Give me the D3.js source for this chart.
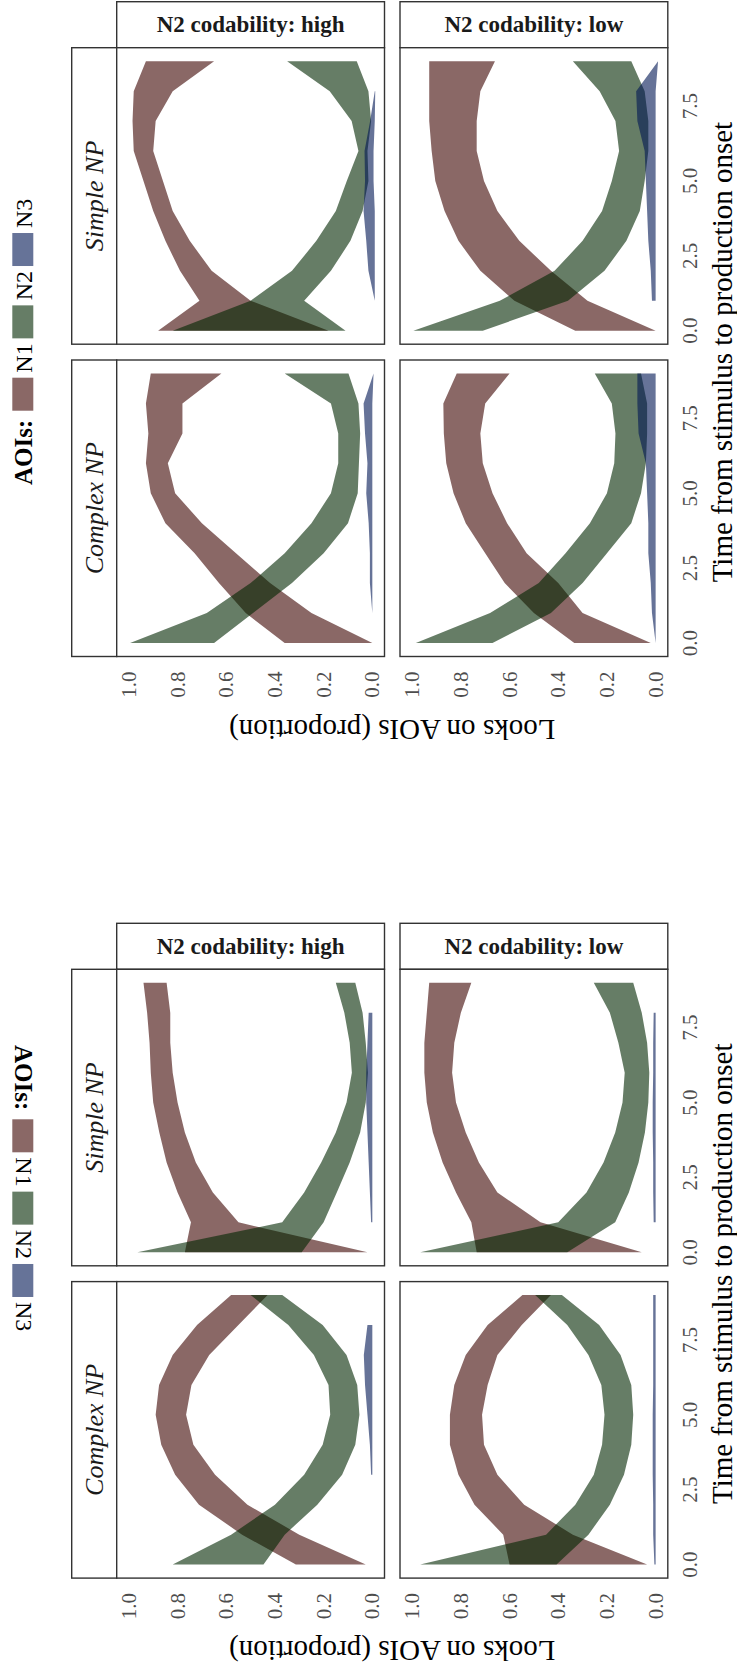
<!DOCTYPE html>
<html><head><meta charset="utf-8">
<script src="https://cdn.jsdelivr.net/npm/d3@7"></script>
<style>body{margin:0;background:#fff} svg{display:block}</style>
</head><body>
<svg id="c" width="737" height="1679"></svg>
<script>
// ---------- data ----------
const times = [0,1,2,3,4,5,6,7,8,9];
const aois = ["N1","N2","N3"];
const aoiColors = ["rgb(60,3,0)","rgb(0,38,0)","rgb(0,22,83)"];
const npLevels = ["Simple NP","Complex NP"];
const codLevels = ["N2 codability: high","N2 codability: low"];
const propTicks = [0,0.2,0.4,0.6,0.8,1.0];
const timeTicks = [0,2.5,5,7.5];
const legendTitle = "AOIs:";
const yTitle = "Looks on AOIs (proportion)";
const xTitle = "Time from stimulus to production onset";

// [lo, hi] per time point; top figure (A)
const A_SH_N1 = [[0.18,0.88],[0.50,0.71],[0.66,0.79],[0.75,0.85],[0.82,0.90],[0.86,0.94],[0.90,0.98],[0.89,0.985],[0.82,0.98],[0.65,0.93]];
const A_SH_N2 = [[0.11,0.82],[0.28,0.50],[0.17,0.33],[0.09,0.23],[0.04,0.15],[0.016,0.105],[0.02,0.057],[0.005,0.085],[0.016,0.175],[0.064,0.35]];
const A_SH_N3 = [null,[-0.01,-0.01],[-0.01,0.016],[-0.01,0.025],[-0.01,0.036],[-0.005,0.03],[-0.005,0.032],[-0.01,0.009],[-0.012,-0.01],null];
const A_SL_N1 = [[0.0,0.33],[0.28,0.58],[0.43,0.72],[0.56,0.81],[0.65,0.867],[0.705,0.905],[0.735,0.92],[0.735,0.93],[0.72,0.93],[0.66,0.93]];
const A_SL_N2 = [[0.71,0.995],[0.36,0.64],[0.21,0.415],[0.12,0.30],[0.065,0.22],[0.045,0.18],[0.03,0.15],[0.03,0.165],[0.045,0.23],[0.10,0.34]];
const A_SL_N3 = [null,[0,0.015],[0,0.02],[0,0.03],[0,0.035],[0,0.04],[0,0.045],[0,0.075],[0,0.08],[-0.01,-0.01]];
const A_CH_N1 = [[0.0,0.36],[0.25,0.52],[0.42,0.63],[0.56,0.73],[0.70,0.85],[0.81,0.91],[0.84,0.93],[0.78,0.92],[0.78,0.93],[0.62,0.91]];
const A_CH_N2 = [[0.65,0.995],[0.49,0.68],[0.33,0.50],[0.20,0.36],[0.10,0.25],[0.06,0.17],[0.055,0.14],[0.05,0.14],[0.057,0.17],[0.098,0.36]];
const A_CH_N3 = [null,[0,0],[0,0.01],[0,0.01],[0,0.015],[0,0.025],[0,0.02],[0,0.03],[0,0.036],[-0.005,-0.005]];
const A_CL_N1 = [[0.02,0.334],[0.30,0.50],[0.40,0.62],[0.53,0.70],[0.61,0.78],[0.67,0.83],[0.71,0.86],[0.72,0.87],[0.70,0.872],[0.60,0.817]];
const A_CL_N2 = [[0.67,0.985],[0.43,0.68],[0.30,0.48],[0.20,0.37],[0.10,0.27],[0.06,0.20],[0.04,0.17],[0.035,0.165],[0.035,0.18],[0.06,0.25]];
const A_CL_N3 = [[0,0],[0,0.015],[0,0.02],[0,0.03],[0,0.03],[0,0.035],[0,0.04],[0,0.07],[0,0.075],[0,0.075]];

// bottom figure (B)
const B_SH_N1 = [[0.02,0.77],[0.55,0.745],[0.655,0.80],[0.725,0.845],[0.77,0.875],[0.80,0.90],[0.82,0.91],[0.83,0.915],[0.83,0.925],[0.845,0.94]];
const B_SH_N2 = [[0.29,0.965],[0.20,0.37],[0.146,0.28],[0.093,0.21],[0.05,0.15],[0.027,0.106],[0.018,0.084],[0.027,0.093],[0.04,0.115],[0.07,0.15]];
const B_SH_N3 = [null,[0,0.005],[0,0.01],[0,0.015],[0,0.02],[0,0.025],[0,0.025],[0,0.02],[0,0.015],null];
const B_SL_N1 = [[0.057,0.735],[0.473,0.757],[0.65,0.82],[0.726,0.875],[0.78,0.915],[0.82,0.94],[0.836,0.95],[0.827,0.95],[0.80,0.94],[0.757,0.93]];
const B_SL_N2 = [[0.363,0.967],[0.166,0.40],[0.11,0.284],[0.07,0.214],[0.044,0.166],[0.03,0.136],[0.026,0.127],[0.035,0.153],[0.057,0.188],[0.092,0.254]];
const B_SL_N3 = [null,[0,0.008],[0,0.01],[0,0.01],[0,0.012],[0,0.012],[0,0.01],[0,0.01],[0,0.008],null];
const B_CH_N1 = [[0.027,0.314],[0.30,0.535],[0.513,0.712],[0.646,0.81],[0.735,0.867],[0.765,0.89],[0.743,0.876],[0.67,0.82],[0.55,0.72],[0.43,0.58]];
const B_CH_N2 = [[0.447,0.82],[0.36,0.58],[0.226,0.40],[0.124,0.28],[0.07,0.204],[0.053,0.173],[0.062,0.18],[0.106,0.24],[0.204,0.345],[0.37,0.50]];
const B_CH_N3 = [null,null,null,[0,0.005],[0,0.01],[0,0.02],[0,0.03],[0,0.035],[0,0.02],null];
const B_CL_N1 = [[0.035,0.60],[0.34,0.626],[0.54,0.744],[0.65,0.81],[0.705,0.845],[0.713,0.845],[0.69,0.827],[0.65,0.78],[0.55,0.69],[0.43,0.547]];
const B_CL_N2 = [[0.407,0.967],[0.276,0.45],[0.188,0.33],[0.13,0.254],[0.10,0.22],[0.092,0.21],[0.10,0.223],[0.144,0.276],[0.232,0.363],[0.385,0.495]];
const B_CL_N3 = [[0,0.005],[0,0.01],[0,0.01],[0,0.012],[0,0.012],[0,0.012],[0,0.01],[0,0.01],[0,0.01],[0,0.01]];

// panels: [npRow][codCol] -> [N1,N2,N3]
const figA = [[[A_SH_N1,A_SH_N2,A_SH_N3],[A_SL_N1,A_SL_N2,A_SL_N3]],
              [[A_CH_N1,A_CH_N2,A_CH_N3],[A_CL_N1,A_CL_N2,A_CL_N3]]];
const figB = [[[B_SH_N1,B_SH_N2,B_SH_N3],[B_SL_N1,B_SL_N2,B_SL_N3]],
              [[B_CH_N1,B_CH_N2,B_CH_N3],[B_CL_N1,B_CL_N2,B_CL_N3]]];

// ---------- layout ----------
const colX = [116.7, 400], colW = 267.8;
const rowY = [47.7, 360], rowH = 296.5;
const FONT = "'Liberation Serif','Times New Roman',serif";
const figures = [
  {data: figA, dy: 0, legendDir: -1, legendStart: 485},
  {data: figB, dy: 921.6, legendDir: 1, legendStart: 1045}
];

const svg = d3.select("#c");

figures.forEach(fig => {
  const g = svg.append("g").attr("transform", `translate(0,${fig.dy})`);

  // top strips
  codLevels.forEach((lab, c) => {
    g.append("rect").attr("x", colX[c]).attr("y", 1.7).attr("width", colW).attr("height", 46)
      .attr("fill", "#fff").attr("stroke", "#333").attr("stroke-width", 1.4);
    g.append("text").attr("x", colX[c] + colW/2).attr("y", 24.7)
      .attr("text-anchor", "middle").attr("dominant-baseline", "central")
      .attr("font-family", FONT).attr("font-weight", "bold").attr("font-size", 23)
      .attr("fill", "#1a1a1a").text(lab);
  });
  // left strips
  npLevels.forEach((lab, r) => {
    g.append("rect").attr("x", 71.7).attr("y", rowY[r]).attr("width", 45).attr("height", rowH)
      .attr("fill", "#fff").attr("stroke", "#333").attr("stroke-width", 1.4);
    const cx = 94, cy = rowY[r] + rowH/2;
    g.append("text").attr("transform", `translate(${cx},${cy}) rotate(-90)`)
      .attr("text-anchor", "middle").attr("dominant-baseline", "central")
      .attr("font-family", FONT).attr("font-style", "italic").attr("font-size", 26)
      .attr("fill", "#1a1a1a").text(lab);
  });

  for (let r = 0; r < 2; r++) {
    const y = d3.scaleLinear().domain([-0.45, 9.45]).range([rowY[r] + rowH, rowY[r]]);
    for (let c = 0; c < 2; c++) {
      const x = d3.scaleLinear().domain([-0.05, 1.05]).range([colX[c] + colW, colX[c]]);
      const pg = g.append("g");
      pg.append("rect").attr("x", colX[c]).attr("y", rowY[r]).attr("width", colW).attr("height", rowH)
        .attr("fill", "#fff");
      const series = fig.data[r][c];
      series.forEach((arr, i) => {
        const pts = times.map((t, k) => ({t, v: arr[k]}));
        const area = d3.area().defined(d => d.v != null)
          .y(d => y(d.t)).x0(d => x(d.v[0])).x1(d => x(d.v[1]));
        pg.append("path").attr("d", area(pts)).attr("fill", aoiColors[i]).attr("fill-opacity", 0.6);
      });
      pg.append("rect").attr("x", colX[c]).attr("y", rowY[r]).attr("width", colW).attr("height", rowH)
        .attr("fill", "none").attr("stroke", "#333").attr("stroke-width", 1.4);

      // bottom prop ticks (only for bottom row)
      if (r === 1) {
        const by = rowY[1] + rowH + 15;
        propTicks.forEach(v => {
          g.append("text").attr("transform", `translate(${x(v)},${by}) rotate(-90)`)
            .attr("text-anchor", "end").attr("dominant-baseline", "central")
            .attr("font-family", FONT).attr("font-size", 21).attr("fill", "#4d4d4d")
            .text(d3.format(".1f")(v));
        });
      }
      // right time ticks (only for right column)
      if (c === 1) {
        timeTicks.forEach(t => {
          g.append("text").attr("transform", `translate(690,${y(t)}) rotate(-90)`)
            .attr("text-anchor", "middle").attr("dominant-baseline", "central")
            .attr("font-family", FONT).attr("font-size", 21).attr("fill", "#4d4d4d")
            .text(d3.format(".1f")(t));
        });
      }
    }
  }

  // axis titles
  const midX = (colX[0] + colX[1] + colW) / 2;
  const midY = (rowY[0] + rowY[1] + rowH) / 2;
  g.append("text").attr("transform", `translate(${midX},${rowY[1] + rowH + 73}) rotate(180)`)
    .attr("text-anchor", "middle").attr("dominant-baseline", "central")
    .attr("font-family", FONT).attr("font-size", 29).attr("fill", "#000").text(yTitle);
  g.append("text").attr("transform", `translate(722,${midY}) rotate(-90)`)
    .attr("text-anchor", "middle").attr("dominant-baseline", "central")
    .attr("font-family", FONT).attr("font-size", 29).attr("fill", "#000").text(xTitle);

  // legend
  const dir = fig.legendDir; // -1: reads bottom-to-top, 1: top-to-bottom
  const rot = dir < 0 ? -90 : 90;
  let pos = fig.legendStart - fig.dy;
  const lg = g.append("g");
  const tt = lg.append("text").attr("font-family", FONT).attr("font-weight", "bold").attr("font-size", 25)
    .attr("text-anchor", "start").attr("dominant-baseline", "central").attr("fill", "#000").text(legendTitle);
  tt.attr("transform", `translate(23,${pos}) rotate(${rot})`);
  pos += dir * (tt.node().getComputedTextLength() + 9);
  aois.forEach((a, i) => {
    const sw = 33;
    const y0 = dir < 0 ? pos - sw : pos;
    lg.append("rect").attr("x", 12.3).attr("y", y0).attr("width", 21).attr("height", sw)
      .attr("fill", aoiColors[i]).attr("fill-opacity", 0.6);
    pos += dir * (sw + 5);
    const t = lg.append("text").attr("font-family", FONT).attr("font-size", 24)
      .attr("text-anchor", "start").attr("dominant-baseline", "central").attr("fill", "#000").text(a)
      .attr("transform", `translate(24,${pos}) rotate(${rot})`);
    pos += dir * (t.node().getComputedTextLength() + 5);
  });
});
</script>
</body></html>
